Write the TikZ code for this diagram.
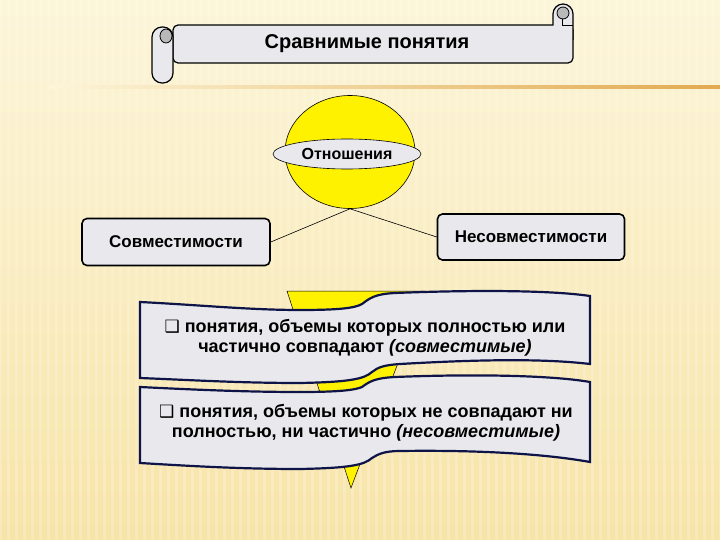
\documentclass[tikz,border=0pt]{standalone}
\usepackage{fontspec}
\setmainfont{Liberation Sans}
\newfontfamily\symfont{DejaVu Sans}
\usetikzlibrary{shapes.geometric}

\definecolor{paper}{RGB}{250,238,192}
\definecolor{paperlight}{RGB}{252,245,216}
\definecolor{paperdark}{RGB}{247,228,168}
\definecolor{ribbon}{RGB}{233,233,237}
\definecolor{navy}{RGB}{14,20,72}
\definecolor{rule}{RGB}{226,170,80}

\begin{document}
\begin{tikzpicture}[x=1pt,y=-1pt,
	box/.style={draw=black,line width=1.6pt,rounded corners=5pt,fill=ribbon,minimum width=188,minimum height=47,font=\bfseries\fontsize{17}{20}\selectfont},
	wave/.style={draw=navy,line width=2.2pt,fill=ribbon},
	note/.style={align=center,font=\bfseries\fontsize{18}{20.5}\selectfont},
	link/.style={draw=black,line width=0.6pt}]
	% background
	\useasboundingbox (0,0) rectangle (720,540);
	\shade[top color=paperlight,bottom color=paperdark] (0,0) rectangle (720,540);
	\foreach \i in {0,8,...,720}
		\draw[white,opacity=0.2,line width=3pt] (\i,0) -- (\i,540);
	\shade[left color=paperlight,right color=rule] (50,86) rectangle (720,88.5);

	% scroll with the title
	\draw[fill=ribbon,line width=1.2pt,rounded corners=5pt] (173,25) rectangle (573,63);
	\draw[fill=ribbon,line width=1.2pt,rounded corners=10pt] (553,25) -- (553,4) -- (573,4) -- (573,40);
	\draw[fill=gray!55,line width=0.8pt] (563,13) circle[radius=6];
	\draw[line width=0.8pt] (562,19) -- (562,25) -- (573,25);
	\draw[fill=ribbon,line width=1.2pt,rounded corners=10pt] (152,27) rectangle (173,83);
	\draw[fill=gray!55,line width=0.8pt] (166,36) ellipse[x radius=6,y radius=7];
	\node (title) at (367,44) {\bfseries\fontsize{20}{24}\selectfont Сравнимые понятия};

	% relations
	\node[ellipse,draw,fill=yellow,line width=0.6pt,inner sep=0,minimum width=130,minimum height=113] (ball) at (350,152) {};
	\node[ellipse,draw,fill=ribbon,line width=0.6pt,inner sep=0,minimum width=148,minimum height=30,font=\bfseries\fontsize{16}{19}\selectfont] (rel) at (347,154) {Отношения};
	\node[box] (sovm) at (176,242) {Совместимости};
	\node[box,minimum width=187,minimum height=46] (nesovm) at (531,237) {Несовместимости};
	\draw[link] (ball.south) -- (sovm.east);
	\draw[link] (ball.south) -- (nesovm.west);

	% wavy banners
	\draw[fill=yellow,line width=0.5pt] (287,291) -- (425,291) -- (351,488) -- cycle;
	\draw[wave] (140,302) .. controls (200,305) and (250,310) .. (300,310)
		.. controls (340,310) and (355,308) .. (362,304)
		.. controls (370,298) and (375,294) .. (395,293)
		.. controls (470,290) and (550,290) .. (590,296) -- (590,364)
		.. controls (540,358) and (470,360) .. (400,364)
		.. controls (385,365) and (378,367) .. (372,372)
		.. controls (364,379) and (350,382) .. (300,383)
		.. controls (240,383) and (190,380) .. (140,378) -- cycle;
	\draw[wave] (140,387) .. controls (200,390) and (250,392) .. (300,392)
		.. controls (340,392) and (355,390) .. (362,387)
		.. controls (370,381) and (376,378) .. (395,377)
		.. controls (470,374) and (550,375) .. (590,382) -- (590,462)
		.. controls (540,453) and (470,450) .. (400,451)
		.. controls (385,451) and (378,454) .. (372,458)
		.. controls (364,465) and (350,468) .. (300,469)
		.. controls (240,469) and (190,466) .. (140,463) -- cycle;
	\node[note] (compat) at (365,338) {{\symfont\fontsize{17}{19}\selectfont ❑} понятия, объемы которых полностью или\\частично совпадают {\itshape (совместимые)}};
	\node[note] (incompat) at (366,423) {{\symfont\fontsize{17}{19}\selectfont ❑} понятия, объемы которых не совпадают ни\\полностью, ни частично {\itshape (несовместимые)}};
\end{tikzpicture}
\end{document}
